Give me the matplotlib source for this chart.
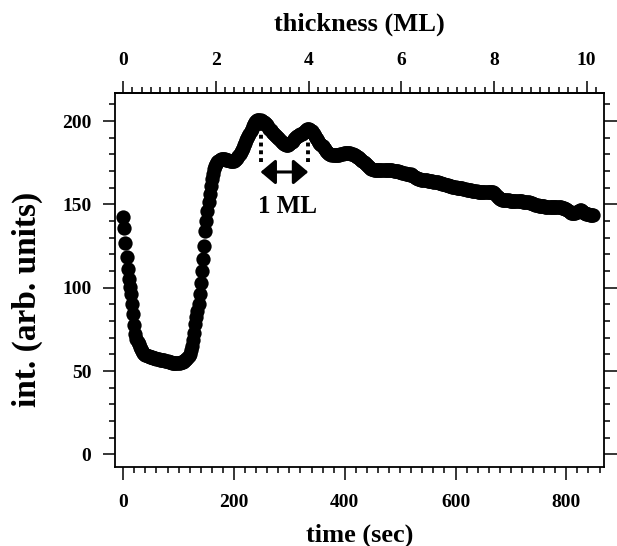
import numpy as np
import matplotlib
matplotlib.use("Agg")
import matplotlib.pyplot as plt
from matplotlib.ticker import MultipleLocator

# ---------------- data ----------------
time_step_s = 2.0
intensity = [
    142.5, 136, 127, 118.5, 111, 105.5, 100.5, 96, 90.5, 84,            # 0-18
    77.5, 72.5, 69.5, 67.5, 66, 64.5, 63, 62, 61, 60.3,                 # 20-38
    59.8, 59.4, 59, 58.8, 58.6, 58.4, 58.2, 58, 57.8, 57.6,             # 40-58
    57.4, 57.2, 57, 56.9, 56.8, 56.6, 56.5, 56.4, 56.2, 56,             # 60-78
    55.8, 55.6, 55.4, 55.2, 55, 54.9, 54.8, 54.8, 54.8, 54.9,           # 80-98
    55, 55.1, 55.2, 55.4, 55.6, 56, 56.5, 57.2, 58, 59,                 # 100-118
    60.5, 62.5, 65, 68.5, 73, 78, 82.5, 86, 90, 96,                     # 120-138
    103, 110, 117.5, 125, 134, 140, 146, 151.5, 156.5, 161,             # 140-158
    165, 168.5, 171, 173, 174.5, 175.5, 176.3, 176.8, 177, 177.2,       # 160-178
    177.3, 177.2, 177, 176.8, 176.6, 176.4, 176.3, 176.2, 176.2, 176.3, # 180-198
    176.3, 176.5, 177, 177.8, 179, 180.3, 181.5, 182.7, 184, 185.5,     # 200-218
    187, 188.5, 190, 191.3, 192.5, 194, 195.5, 197, 198.2, 199.2,       # 220-238
    200, 200.5, 200.8, 200.8, 200.6, 200.2, 199.7, 199.2, 198.7, 198.2, # 240-258
    197.5, 196.5, 195.5, 194.5, 193.7, 193, 192.3, 191.7, 191, 190.3,   # 260-278
    189.6, 189, 188.3, 187.7, 187, 186.5, 186, 185.8, 185.7, 185.8,     # 280-298
    186.2, 186.8, 187.5, 188.2, 189, 189.7, 190.3, 190.8, 191.2, 191.6, # 300-318
    192, 192.5, 193, 193.7, 194.3, 194.8, 195.2, 195.4, 195.3, 194.8,   # 320-338
    194, 193, 192, 191, 190, 189, 188, 187, 186.3, 185.7,               # 340-358
    185, 184, 183, 182, 181.3, 180.8, 180.3, 180, 179.8, 179.6,         # 360-378
    179.5, 179.5, 179.5, 179.6, 179.7, 179.9, 180.1, 180.3, 180.5, 180.7,  # 380-398
    180.8, 180.9, 181, 181, 180.8, 180.6, 180.3, 180, 179.7, 179.4,     # 400-418
    179, 178.6, 178.2, 177.7, 177.2, 176.6, 176, 175.3, 174.6, 174,     # 420-438
    173.4, 172.8, 172.3, 171.8, 171.4, 171.1, 170.9, 170.8, 170.7, 170.7,  # 440-458
    170.7, 170.7, 170.8, 170.8, 170.8, 170.8, 170.8, 170.7, 170.7, 170.6,  # 460-478
    170.6, 170.5, 170.5, 170.4, 170.3, 170.2, 170.1, 170, 169.8, 169.6, # 480-498
    169.4, 169.2, 169, 168.8, 168.6, 168.5, 168.4, 168.3, 168.1, 167.8, # 500-518
    168.2, 167.7, 167.1, 166.5, 166, 165.6, 165.3, 165.1, 165, 164.9,   # 520-538
    164.8, 164.7, 164.6, 164.5, 164.4, 164.3, 164.1, 164, 163.9, 163.8, # 540-558
    163.7, 163.6, 163.5, 163.4, 163.3, 163.1, 162.9, 162.7, 162.5, 162.3,  # 560-578
    162.1, 161.9, 161.7, 161.5, 161.3, 161.1, 160.9, 160.7, 160.5, 160.3,  # 580-598
    160.2, 160.1, 160, 159.9, 159.8, 159.7, 159.6, 159.4, 159.2, 159,   # 600-618
    158.8, 158.7, 158.6, 158.5, 158.4, 158.3, 158.2, 158.1, 158, 157.8, # 620-638
    157.7, 157.6, 157.6, 157.5, 157.5, 157.5, 157.5, 157.6, 157.6, 157.7,  # 640-658
    157.7, 157.7, 157.7, 157.6, 157.3, 156.8, 156.1, 155.3, 154.5, 153.8,  # 660-678
    153.3, 153, 152.8, 152.7, 152.6, 152.5, 152.5, 152.4, 152.4, 152.3, # 680-698
    152.3, 152.2, 152.2, 152.1, 152.1, 152, 152, 151.9, 151.9, 151.8,   # 700-718
    151.8, 151.7, 151.7, 151.6, 151.6, 151.5, 151.3, 151.1, 150.9, 150.6,  # 720-738
    150.3, 150, 149.8, 149.6, 149.4, 149.3, 149.2, 149.1, 149, 148.9,   # 740-758
    148.8, 148.7, 148.6, 148.5, 148.5, 148.4, 148.4, 148.4, 148.4, 148.4,  # 760-778
    148.4, 148.4, 148.4, 148.3, 148.3, 148.2, 148.1, 148, 147.8, 147.5, # 780-798
    147, 146.5, 146, 145.5, 145.1, 144.8, 144.6, 144.6, 144.8, 145.2,   # 800-818
    145.7, 146.2, 146.5, 146.4, 146, 145.5, 145, 144.6, 144.3, 144.1,   # 820-838
    144, 143.9, 143.8, 143.8, 143.7,                                    # 840-848
]
time_s = np.arange(len(intensity)) * time_step_s

sec_per_ML = 83.65          # 1 ML of growth in seconds (top axis scale)
peak_times = [248, 334]     # positions of the dotted markers (sec)
peak_top = [199, 193]
marker_bottom = 175.5
arrow_level = 169.5
ml_label = "1 ML"
ml_label_pos = (297, 148.5)

x_ticks = [0, 200, 400, 600, 800]
y_ticks = [0, 50, 100, 150, 200]
top_ticks = [0, 2, 4, 6, 8, 10]

# ---------------- style ----------------
plt.rcParams['font.family'] = ['Liberation Serif', 'DejaVu Serif']
plt.rcParams['font.weight'] = 'bold'
plt.rcParams['axes.labelweight'] = 'bold'

fig = plt.figure(figsize=(6.17, 5.46), dpi=100)
ax = fig.add_axes([0.1864, 0.1438, 0.7925, 0.6859])

ax.plot(time_s, intensity, 'o', color='black', markersize=10.3, markeredgewidth=0)

# dotted guide lines
for t, top in zip(peak_times, peak_top):
    ax.plot([t, t], [marker_bottom, top], color='black', linestyle=(0, (1, 1)),
            linewidth=2.8, dash_capstyle='butt')
ax.annotate('', xy=(peak_times[0], arrow_level), xytext=(peak_times[1], arrow_level),
            arrowprops=dict(arrowstyle='<|-|>,head_length=0.45,head_width=0.38',
                            color='black', lw=2.2, mutation_scale=20,
                            shrinkA=0, shrinkB=0))
ax.text(ml_label_pos[0], ml_label_pos[1], ml_label, ha='center', va='center',
        fontsize=18, fontweight='bold')

ax.set_xlim(-14.8, 868)
ax.set_ylim(-7.8, 216.9)

ax.set_xticks(x_ticks)
ax.set_yticks(y_ticks)
ax.xaxis.set_minor_locator(MultipleLocator(20))
ax.yaxis.set_minor_locator(MultipleLocator(10))
ax.tick_params(axis='both', which='major', direction='out', length=9, width=1.1,
               labelsize=14, pad=8)
ax.tick_params(axis='x', which='major', pad=10)
ax.tick_params(axis='both', which='minor', direction='out', length=4, width=1.1)
ax.tick_params(axis='y', which='both', right=True)
for s in ax.spines.values():
    s.set_linewidth(1.3)

ax.set_xlabel('time (sec)', fontsize=19, fontweight='bold', labelpad=9)
ax.set_ylabel('int. (arb. units)', fontsize=24, fontweight='bold')
ax.yaxis.set_label_coords(-0.147, 0.448)

top = ax.secondary_xaxis('top', functions=(lambda t: t / sec_per_ML,
                                           lambda m: m * sec_per_ML))
top.set_xticks(top_ticks)
top.xaxis.set_minor_locator(MultipleLocator(0.2))
top.tick_params(axis='x', which='major', direction='out', length=9, width=1.1,
                labelsize=14, pad=8)
top.tick_params(axis='x', which='minor', direction='out', length=4, width=1.1)
top.set_xlabel('thickness (ML)', fontsize=19, fontweight='bold', labelpad=16)
top.spines['top'].set_linewidth(1.3)

for lab in ax.get_xticklabels() + ax.get_yticklabels() + top.get_xticklabels():
    lab.set_fontweight('bold')

fig.savefig('out.png', dpi=100)
